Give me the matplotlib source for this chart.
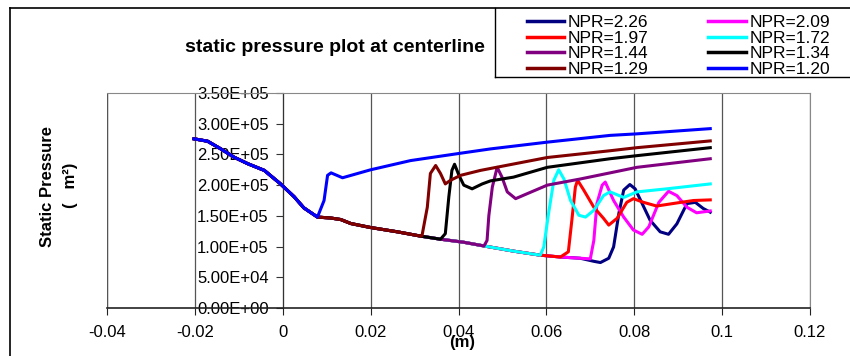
import matplotlib
matplotlib.use("Agg")
import matplotlib.pyplot as plt  # noqa: E402
from matplotlib.lines import Line2D  # noqa: E402
from matplotlib.ticker import FuncFormatter, MultipleLocator  # noqa: E402

plt.rcParams["font.family"] = ["Liberation Sans", "DejaVu Sans"]

# upstream part, all NPR curves coincide here
BASE_X = [-0.0202, -0.0171, -0.0141, -0.0111, -0.0080, -0.0042, -0.0005,
          0.0026, 0.0048, 0.0079]
BASE_Y = [2.754e5, 2.715e5, 2.59e5, 2.456e5, 2.35e5, 2.24e5, 2.02e5,
          1.81e5, 1.63e5, 1.48e5]
# shared lower branch (before each curve's shock)
LOWER_X = [0.0109, 0.0132, 0.0155, 0.020, 0.0261, 0.0314, 0.0359, 0.0412,
           0.0458, 0.0526, 0.0586, 0.0632, 0.0677]
LOWER_Y = [1.465e5, 1.44e5, 1.375e5, 1.31e5, 1.24e5, 1.17e5, 1.12e5, 1.07e5,
           1.01e5, 0.925e5, 0.86e5, 0.83e5, 0.81e5]

# per-curve part from the shock onwards
X_226 = [0.0708, 0.0723, 0.0742, 0.0753, 0.0765, 0.0776, 0.0790, 0.0802,
         0.0818, 0.0836, 0.0859, 0.0878, 0.0897, 0.0920, 0.0939, 0.0957, 0.0973]
Y_226 = [0.76e5, 0.74e5, 0.81e5, 0.995e5, 1.54e5, 1.92e5, 2.01e5, 1.94e5,
         1.70e5, 1.43e5, 1.24e5, 1.20e5, 1.37e5, 1.70e5, 1.72e5, 1.62e5, 1.56e5]
X_209 = [0.0700, 0.0708, 0.0715, 0.0727, 0.0734, 0.0753, 0.0776, 0.0798,
         0.0818, 0.0833, 0.0856, 0.0878, 0.0897, 0.0920, 0.0942, 0.0973]
Y_209 = [0.80e5, 1.10e5, 1.70e5, 2.0e5, 2.05e5, 1.75e5, 1.48e5, 1.27e5,
         1.20e5, 1.32e5, 1.72e5, 1.90e5, 1.83e5, 1.64e5, 1.55e5, 1.58e5]
X_197 = [0.0650, 0.0658, 0.0666, 0.0671, 0.0685, 0.0708, 0.0730, 0.0742,
         0.0761, 0.0783, 0.0798, 0.0821, 0.0851, 0.0897, 0.0935, 0.0973]
Y_197 = [0.915e5, 1.43e5, 1.97e5, 2.08e5, 1.92e5, 1.64e5, 1.46e5, 1.35e5,
         1.46e5, 1.72e5, 1.78e5, 1.72e5, 1.66e5, 1.71e5, 1.75e5, 1.76e5]
X_172 = [0.0594, 0.0605, 0.0617, 0.0628, 0.0640, 0.0655, 0.0674, 0.0689,
         0.0708, 0.0730, 0.0745, 0.0776, 0.0806, 0.0874, 0.0973]
Y_172 = [0.99e5, 1.54e5, 2.08e5, 2.25e5, 2.10e5, 1.75e5, 1.51e5, 1.48e5,
         1.59e5, 1.83e5, 1.89e5, 1.80e5, 1.89e5, 1.94e5, 2.02e5]
X_144 = [0.0465, 0.0469, 0.0477, 0.0488, 0.0499, 0.0511, 0.0530, 0.0556,
         0.0602, 0.0677, 0.0745, 0.0806, 0.0973]
Y_144 = [1.10e5, 1.50e5, 1.97e5, 2.29e5, 2.13e5, 1.89e5, 1.78e5, 1.86e5,
         2.0e5, 2.10e5, 2.20e5, 2.29e5, 2.43e5]
X_134 = [0.0370, 0.0378, 0.0385, 0.0391, 0.0401, 0.0412, 0.0431, 0.0454,
         0.0473, 0.0525, 0.0602, 0.0745, 0.0806, 0.0973]
Y_134 = [1.21e5, 1.81e5, 2.24e5, 2.34e5, 2.16e5, 2.0e5, 1.94e5, 2.02e5,
         2.07e5, 2.13e5, 2.29e5, 2.43e5, 2.48e5, 2.61e5]
X_129 = [0.0317, 0.0329, 0.0336, 0.0348, 0.0359, 0.0370, 0.0382, 0.0405,
         0.0450, 0.0602, 0.0745, 0.0806, 0.0973]
Y_129 = [1.18e5, 1.64e5, 2.19e5, 2.32e5, 2.19e5, 2.02e5, 2.08e5, 2.16e5,
         2.24e5, 2.45e5, 2.56e5, 2.61e5, 2.72e5]
X_120 = [0.0094, 0.0102, 0.0110, 0.0136, 0.0200, 0.0291, 0.0405, 0.0473,
         0.0602, 0.0745, 0.0806, 0.0973]
Y_120 = [1.75e5, 2.16e5, 2.20e5, 2.12e5, 2.25e5, 2.40e5, 2.52e5, 2.59e5,
         2.70e5, 2.81e5, 2.835e5, 2.92e5]

LABELS = ["NPR=2.26", "NPR=2.09", "NPR=1.97", "NPR=1.72",
          "NPR=1.44", "NPR=1.34", "NPR=1.29", "NPR=1.20"]
COLORS = ["#000080", "#FF00FF", "#FF0000", "#00FFFF",
          "#800080", "#000000", "#800000", "#0000FF"]
TAILS = [(X_226, Y_226), (X_209, Y_209), (X_197, Y_197), (X_172, Y_172),
         (X_144, Y_144), (X_134, Y_134), (X_129, Y_129), (X_120, Y_120)]


def curve(tx, ty):
    lx = [x for x in LOWER_X if x < tx[0]]
    return BASE_X + lx + tx, BASE_Y + LOWER_Y[:len(lx)] + ty


W, H = 850, 356
fig = plt.figure(figsize=(W / 100, H / 100), dpi=100)
ax = fig.add_axes([107 / W, 1 - 308 / H, 703 / W, 215 / H])

handles = []
for lab, col, (tx, ty) in zip(LABELS, COLORS, TAILS):
    xs, ys = curve(tx, ty)
    ln, = ax.plot(xs, ys, color=col, lw=2.2, label=lab, zorder=3,
                  solid_joinstyle="round")
    handles.append(ln)

ax.set_xlim(-0.04, 0.12)
ax.set_ylim(0, 3.5e5)
ax.xaxis.set_major_locator(MultipleLocator(0.02))
ax.yaxis.set_major_locator(MultipleLocator(5e4))
ax.xaxis.set_major_formatter(FuncFormatter(lambda v, p: f"{v:g}" if abs(v) > 1e-9 else "0"))
ax.yaxis.set_major_formatter(FuncFormatter(lambda v, p: f"{v:.2E}"))
ax.grid(axis="x", color="#555555", lw=0.9, zorder=1)

# y axis crosses at x = 0, plot area border in grey
ax.spines["left"].set_position(("data", 0))
ax.spines["left"].set_color("#333333")
for s in ("top", "right"):
    ax.spines[s].set_color("#888888")
ax.spines["bottom"].set_color("#222222")
ax.spines["bottom"].set_linewidth(1.2)
ax.axvline(-0.04, color="#888888", lw=1.0, zorder=1)

ax.tick_params(axis="x", direction="out", length=5, pad=7, labelsize=12,
               color="#222222")
ax.tick_params(axis="y", direction="out", length=5, pad=5, labelsize=12,
               color="#333333")

# chart frame (cropped at right and bottom)
fig.add_artist(Line2D([10 / W, 10 / W], [0, 1 - 8 / H], color="black", lw=1.2))
fig.add_artist(Line2D([10 / W, 1], [1 - 8 / H, 1 - 8 / H], color="black", lw=1.2))

fig.text(335 / W, 1 - 48 / H, "static pressure plot at centerline",
         ha="center", va="center", fontsize=14, fontweight="bold")
fig.text(47 / W, 1 - 186 / H, "Static Pressure", rotation=90,
         ha="center", va="center", fontsize=12, fontweight="bold")
fig.text(70 / W, 1 - 185 / H, "(   m²)", rotation=90,
         ha="center", va="center", fontsize=12, fontweight="bold")
fig.text(462 / W, 1 - 343 / H, "(m)", ha="center", va="center",
         fontsize=12, fontweight="bold")

# legend box (runs off the right edge), rows read left to right
fig.add_artist(Line2D([495 / W, 495 / W], [1 - 77 / H, 1 - 8 / H],
                      color="black", lw=1.0))
fig.add_artist(Line2D([495 / W, 1], [1 - 77 / H, 1 - 77 / H],
                      color="black", lw=1.0))
order = [0, 2, 4, 6, 1, 3, 5, 7]
leg = fig.legend([handles[i] for i in order], [LABELS[i] for i in order],
                 ncol=2, loc="upper left", bbox_to_anchor=(527 / W, 1 - 15 / H),
                 frameon=False, borderpad=0, borderaxespad=0, fontsize=12.5,
                 handlelength=2.15, handletextpad=0.2, columnspacing=3.45,
                 labelspacing=0.02)
for ln in leg.get_lines():
    ln.set_linewidth(2.5)

fig.savefig("out.png", dpi=100)
